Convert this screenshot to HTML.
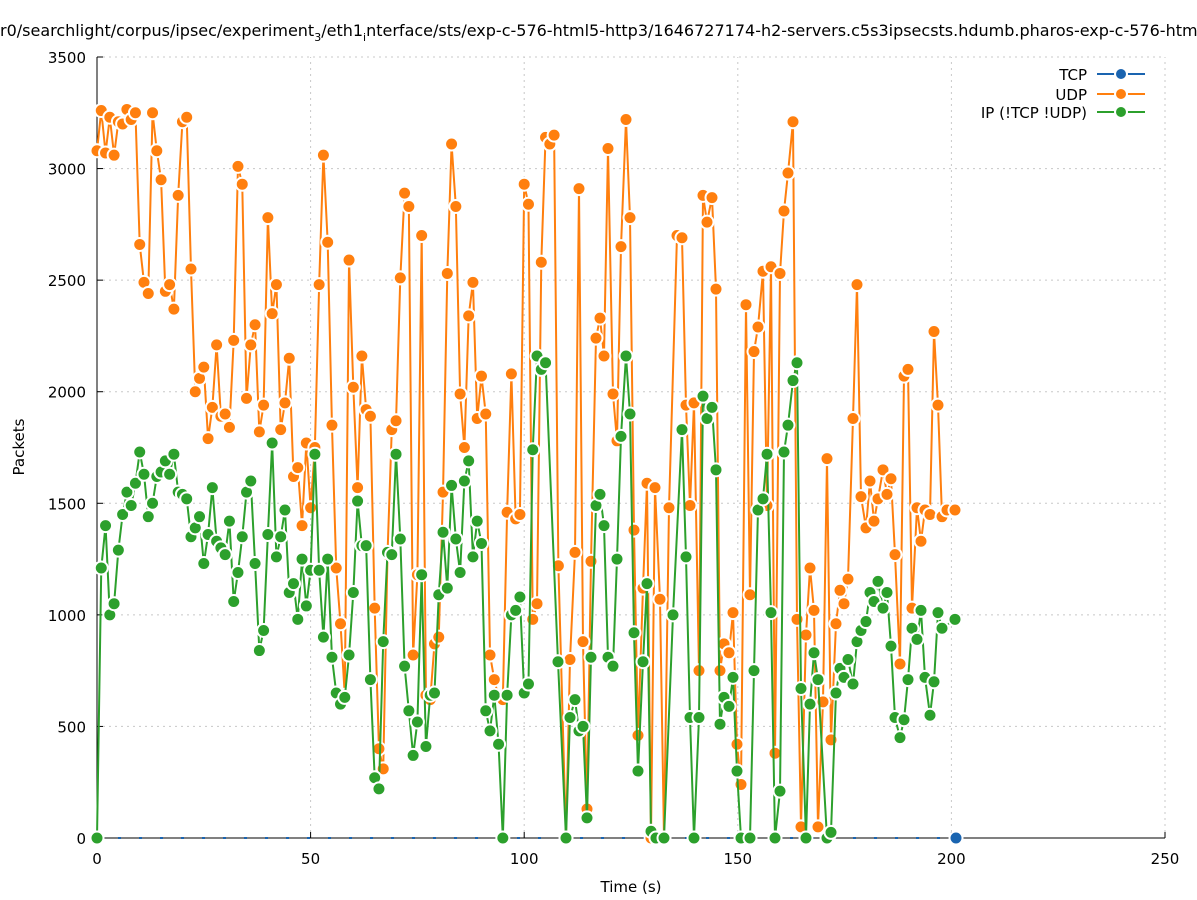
<!DOCTYPE html>
<html><head><meta charset="utf-8"><style>
html,body{margin:0;padding:0;background:#fff;}
svg{display:block;font-family:"DejaVu Sans","Liberation Sans",sans-serif;}
</style></head><body>
<svg id="s" width="1197" height="900" xmlns="http://www.w3.org/2000/svg">
<rect width="1197" height="900" fill="#fff"/>
<g id="grid" stroke="#c8c8c8" stroke-width="1" stroke-dasharray="2,4"></g>
<g id="axes"></g>
<text x="0" y="36" font-size="16" fill="#000">r0/searchlight/corpus/ipsec/experiment<tspan font-size="11" dy="5">3</tspan><tspan dy="-5">/eth1</tspan><tspan font-size="11" dy="5">i</tspan><tspan dy="-5">nterface/sts/exp-c-576-html5-http3/1646727174-h2-servers.c5s3ipsecsts.hdumb.pharos-exp-c-576-html</tspan></text>
<text transform="translate(24,447) rotate(-90)" font-size="15" text-anchor="middle">Packets</text>
<text x="631" y="892" font-size="15" text-anchor="middle">Time (s)</text>
<g id="series"></g>
<g id="legend" font-size="15">
<text x="1087" y="80" text-anchor="end">TCP</text>
<text x="1087" y="100" text-anchor="end">UDP</text>
<text x="1087" y="118" text-anchor="end">IP (!TCP  !UDP)</text>
</g>
</svg>
<script>
var NS="http://www.w3.org/2000/svg";
function el(p,t,a){var e=document.createElementNS(NS,t);for(var k in a)e.setAttribute(k,a[k]);p.appendChild(e);return e;}
var X0=97,X1=1165,Y0=838,Y1=57;
function yv(v){return Y0-(v/3500)*(Y0-Y1);}
function xv(t){return X0+t*(X1-X0)/250;}
var g=document.getElementById('grid'),ax=document.getElementById('axes');
for(var v=500;v<=3500;v+=500){el(g,'line',{x1:X0,x2:X1,y1:yv(v),y2:yv(v)});}
for(var t=50;t<=250;t+=50){el(g,'line',{x1:xv(t),x2:xv(t),y1:Y0,y2:Y1});}
el(ax,'line',{x1:X0,x2:X0,y1:Y1,y2:Y0,stroke:'#000','stroke-width':1});
el(ax,'line',{x1:X0,x2:X1,y1:Y0,y2:Y0,stroke:'#000','stroke-width':1});
for(var v=0;v<=3500;v+=500){el(ax,'line',{x1:X0,x2:X0+6,y1:yv(v),y2:yv(v),stroke:'#000'});var tx=el(ax,'text',{x:86,y:yv(v)+6,'font-size':15,'text-anchor':'end'});tx.textContent=v;}
for(var t=0;t<=250;t+=50){el(ax,'line',{x1:xv(t),x2:xv(t),y1:Y0,y2:Y0-6,stroke:'#000'});var tx=el(ax,'text',{x:xv(t),y:864,'font-size':15,'text-anchor':'middle'});tx.textContent=t;}
var udpA=[3080,3260,3070,3230,3060,3210,3200,3265,3220,3250,2660,2490,2440,3250,3080,2950,2450,2480,2370,2880,3210,3230,2550,2000,2060,2110,1790,1930,2210,1890,1900,1840,2230,3010,2930,1970,2210,2300,1820,1940,2780,2350,2480,1830,1950,2150,1620,1660,1400,1770,1480,1750,2480,3060,2670,1850,1210,960,640,2590,2020,1570,2160,1920,1890,1030,400,310,1270,1830,1870,2510,2890,2830,820,1180,2700,640,620,870,900,1550,2530,3110,2830,1990,1750,2340,2490,1880,2070,1900,820,710,630,620,1460,2080,1430,1450,2930,2840,980,1050,2580,3140,3110,3150,1220];
var udpB=[[566,0],[570,800],[575,1280],[579,2910],[583,880],[587,130],[591,1240],[596,2240],[600,2330],[604,2160],[608,3090],[613,1990],[617,1780],[621,2650],[626,3220],[630,2780],[634,1380],[638,460],[643,1120],[647,1590],[651,0],[655,1570],[660,1070],[664,0],[669,1480],[677,2700],[682,2690],[686,1940],[690,1490],[694,1950],[699,750],[703,2880],[707,2760],[712,2870],[716,2460],[720,750],[724,870],[729,830],[733,1010],[737,420],[741,240],[746,2390],[750,1090],[754,2180],[758,2290],[763,2540],[767,1490],[771,2560],[775,380],[780,2530],[784,2810],[788,2980],[793,3210],[797,980],[801,50],[806,910],[810,1210],[814,1020],[818,50],[823,610],[827,1700],[831,440],[836,960],[840,1110],[844,1050],[848,1160],[853,1880],[857,2480],[861,1530],[866,1390],[870,1600],[874,1420],[878,1520],[883,1650],[887,1540],[891,1610],[895,1270],[900,780],[904,2070],[908,2100],[912,1030],[917,1480],[921,1330],[925,1470],[930,1450],[934,2270],[938,1940],[942,1440],[947,1470],[955,1470]];
var ipA=[0,1210,1400,1000,1050,1290,1450,1550,1490,1590,1730,1630,1440,1500,1620,1640,1690,1630,1720,1550,1540,1520,1350,1390,1440,1230,1360,1570,1330,1300,1270,1420,1060,1190,1350,1550,1600,1230,840,930,1360,1770,1260,1350,1470,1100,1140,980,1250,1040,1200,1720,1200,900,1250,810,650,600,630,820,1100,1510,1310,1310,710,270,220,880,1280,1270,1720,1340,770,570,370,520,1180,410,640,650,1090,1370,1120,1580,1340,1190,1600,1690,1260,1420,1320,570,480,640,420,0,640,1000,1020,1080,650,690,1740,2160,2100,2130];
var ipB=[[558,790],[566,0],[570,540],[575,620],[579,480],[583,500],[587,90],[591,810],[596,1490],[600,1540],[604,1400],[608,810],[613,770],[617,1250],[621,1800],[626,2160],[630,1900],[634,920],[638,300],[643,790],[647,1140],[651,30],[656,0],[664,0],[673,1000],[682,1830],[686,1260],[690,540],[694,0],[699,540],[703,1980],[707,1880],[712,1930],[716,1650],[720,510],[724,630],[729,590],[733,720],[737,300],[741,0],[750,0],[754,750],[758,1470],[763,1520],[767,1720],[771,1010],[775,0],[780,210],[784,1730],[788,1850],[793,2050],[797,2130],[801,670],[806,0],[810,600],[814,830],[818,710],[827,0],[831,25],[836,650],[840,760],[844,720],[848,800],[853,690],[857,880],[861,930],[866,970],[870,1100],[874,1060],[878,1150],[883,1030],[887,1100],[891,860],[895,540],[900,450],[904,530],[908,710],[912,940],[917,890],[921,1020],[925,720],[930,550],[934,700],[938,1010],[942,940],[955,980]];
function pts(A,B){var p=[];for(var i=0;i<A.length;i++)p.push([X0+4.272*i,yv(A[i])]);B.forEach(function(b){p.push([b[0],yv(b[1])]);});return p;}
var sg=document.getElementById('series');
function draw(p,c){
 el(sg,'polyline',{points:p.map(function(q){return q.join(',')}).join(' '),fill:'none',stroke:c,'stroke-width':2,'stroke-linejoin':'round'});
 p.forEach(function(q){el(sg,'circle',{cx:q[0],cy:q[1],r:6.5,fill:c,stroke:'#fff','stroke-width':2});});
}
el(sg,'line',{x1:X0,x2:955,y1:Y0,y2:Y0,stroke:'#1a64b0','stroke-width':2,'stroke-dasharray':'3,18'});
draw(pts(udpA,udpB),'#ff7f0e');
draw(pts(ipA,ipB),'#2ca02c');
el(sg,'circle',{cx:956,cy:Y0,r:6.5,fill:'#1a64b0',stroke:'#fff','stroke-width':2});
var lg=document.getElementById('legend');
[['#1a64b0',74],['#ff7f0e',94],['#2ca02c',112]].forEach(function(a){
 el(lg,'line',{x1:1097,x2:1145,y1:a[1],y2:a[1],stroke:a[0],'stroke-width':2});
 el(lg,'circle',{cx:1121,cy:a[1],r:6,fill:a[0],stroke:'#fff','stroke-width':2});
});
</script>
</body></html>
